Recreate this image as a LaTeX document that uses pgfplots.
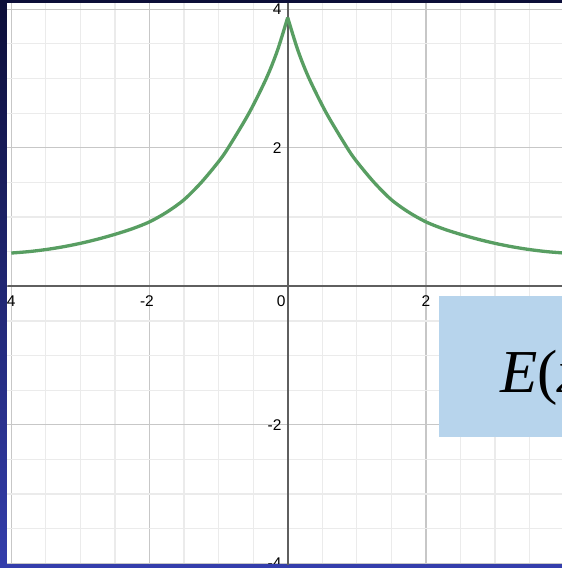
\documentclass[border=0pt]{standalone}
\usepackage{fontspec}
\setmainfont{Liberation Sans}
\newfontfamily\formulafont{Liberation Serif}
\usepackage{pgfplots}
\pgfplotsset{compat=1.18}

\definecolor{curvegreen}{RGB}{88,158,98}
\definecolor{boxblue}{RGB}{183,212,236}
\definecolor{navytop}{RGB}{12,14,56}
\definecolor{navybot}{RGB}{52,62,172}
\definecolor{axisgray}{RGB}{95,95,95}

% E(x) sampled on each side of the cusp at x = 0
\pgfplotstableread{
x y
-4.00 0.48
-3.75 0.50
-3.50 0.53
-3.25 0.57
-3.00 0.62
-2.75 0.68
-2.50 0.75
-2.25 0.83
-2.00 0.93
-1.75 1.07
-1.50 1.25
-1.25 1.50
-1.00 1.80
-0.86 2.00
-0.56 2.50
-0.31 3.00
-0.15 3.40
 0.00 3.88
}\leftbranch
\pgfplotstableread{
x y
0.00 3.88
0.15 3.40
0.31 3.00
0.56 2.50
0.86 2.00
1.00 1.80
1.25 1.50
1.50 1.25
1.75 1.07
2.00 0.93
2.25 0.83
2.50 0.75
2.75 0.68
3.00 0.62
3.25 0.57
3.50 0.53
3.75 0.50
4.00 0.48
}\rightbranch

\begin{document}
\begin{tikzpicture}[x=1pt,y=1pt]
\useasboundingbox (0,0) rectangle (562,568);
\clip (0,0) rectangle (562,568);
\shade[top color=navytop, bottom color=navybot] (0,0) rectangle (562,568);
\begin{axis}[
  at={(7.5pt,4pt)}, anchor=south west,
  scale only axis, width=554.5pt, height=561pt,
  xmin=-4.055, xmax=3.97, ymin=-4.01, ymax=4.09,
  axis background/.style={fill=white},
  axis line style={draw=none},
  xtick={-4,-2,...,4}, ytick={-4,-2,...,4},
  minor xtick={-4,-3.5,...,4}, minor ytick={-4,-3.5,...,4},
  xticklabels={}, yticklabels={},
  tick style={draw=none},
  grid=both,
  major grid style={draw=black!22, line width=1.3pt},
  minor grid style={draw=black!8, line width=1.2pt},
]
  \draw[axisgray, line width=2pt] (axis cs:-5,0) -- (axis cs:5,0);
  \draw[axisgray, line width=2pt] (axis cs:0,-5) -- (axis cs:0,5);
  \addplot[curvegreen, line width=3.3pt, smooth] table {\leftbranch};
  \addplot[curvegreen, line width=3.3pt, smooth] table {\rightbranch};
  \coordinate (o) at (axis cs:0,0);
  \coordinate (xm4) at (axis cs:-4,0);
  \coordinate (xm2) at (axis cs:-2,0);
  \coordinate (xp2) at (axis cs:2,0);
  \coordinate (xp4) at (axis cs:4,0);
  \coordinate (yp4) at (axis cs:0,4);
  \coordinate (yp2) at (axis cs:0,2);
  \coordinate (ym2) at (axis cs:0,-2);
  \coordinate (ym4) at (axis cs:0,-4);
\end{axis}
\begin{scope}
  \clip (7.5,4) rectangle (562,565);
  \begin{scope}[every node/.style={inner sep=0pt, font=\fontsize{15.5}{17}\selectfont}]
    \node[anchor=north] at ([yshift=-9pt]xm4) {\llap{-}4};
    \node[anchor=north] at ([yshift=-9pt]xm2) {\llap{-}2};
    \node[anchor=north] at ([yshift=-9pt]xp2) {2};
    \node[anchor=north] at ([yshift=-9pt]xp4) {4};
    \node[anchor=north east] at ([xshift=-2pt,yshift=-9pt]o) {0};
    \node[anchor=east] at ([xshift=-6pt]yp4) {4};
    \node[anchor=east] at ([xshift=-6pt]yp2) {2};
    \node[anchor=east] at ([xshift=-6pt]ym2) {-2};
    \node[anchor=east] at ([xshift=-6pt]ym4) {-4};
  \end{scope}
\end{scope}
% formula panel
\fill[boxblue] (439,131) rectangle (570,272);
\node[anchor=base west, inner sep=0pt] at (500,175)
  {\fontsize{61}{61}\selectfont\formulafont\textit{E}(\textit{x})};
\end{tikzpicture}
\end{document}
